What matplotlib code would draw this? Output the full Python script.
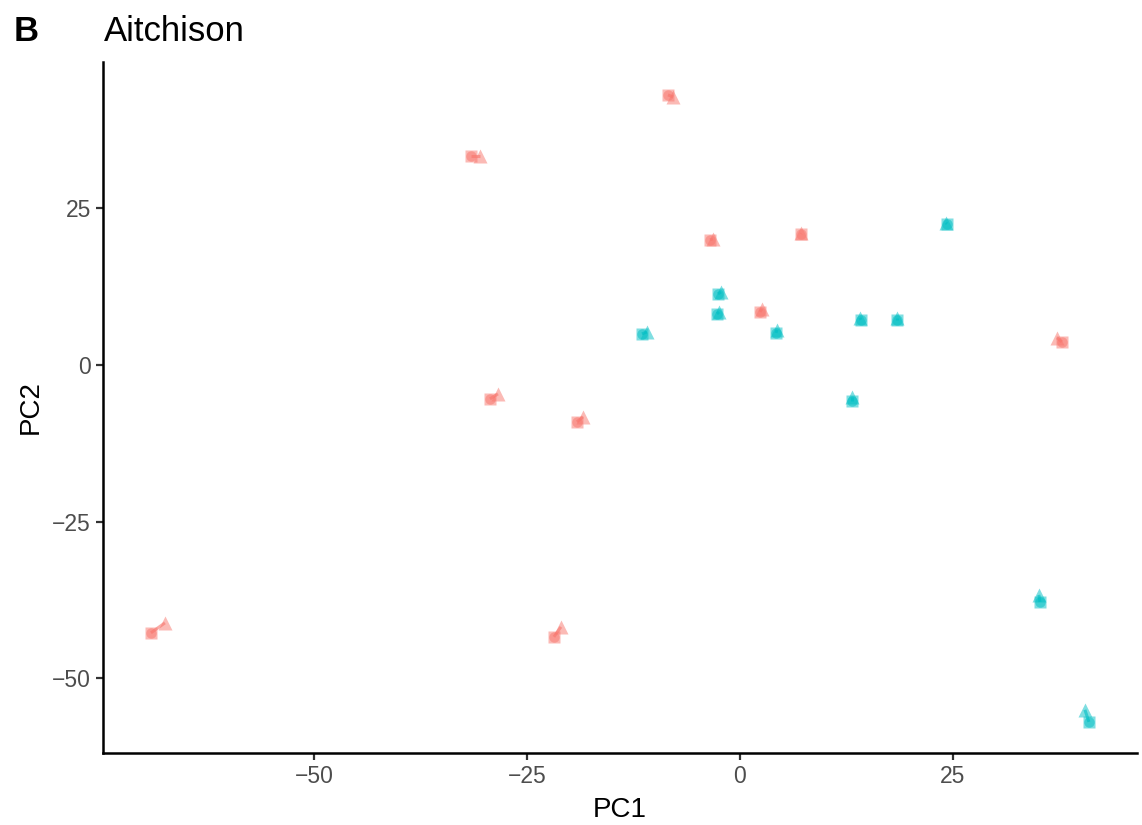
import numpy as np
import matplotlib.pyplot as plt

plt.rcParams["font.family"] = ["Liberation Sans", "DejaVu Sans"]

# PCA coordinates per sample: square = first time point, triangle = second
group = ["a"] * 10 + ["b"] * 10
pc1_t1 = [-8.45, -31.57, -3.52, 7.16, 2.35, 37.79, -29.34, -19.13, -69.13, -21.83,
          24.30, -2.58, -2.70, -11.50, 4.23, 14.20, 18.43, 13.15, 35.21, 40.96]
pc2_t1 = [43.06, 33.33, 19.94, 20.89, 8.45, 3.67, -5.42, -9.09, -42.74, -43.38,
          22.49, 11.32, 8.13, 4.94, 5.10, 7.18, 7.18, -5.74, -37.80, -56.94]
pc1_t2 = [-7.86, -30.52, -3.17, 7.20, 2.58, 37.21, -28.40, -18.43, -67.49, -21.01,
          24.18, -2.23, -2.46, -10.92, 4.34, 14.08, 18.43, 13.15, 35.09, 40.49]
pc2_t2 = [42.74, 33.33, 20.10, 20.97, 8.93, 4.31, -4.63, -8.29, -41.15, -41.79,
          22.65, 11.64, 8.45, 5.26, 5.58, 7.50, 7.50, -5.10, -36.68, -55.02]

colors = {"a": "#F8766D", "b": "#00BFC4"}

fig = plt.figure(figsize=(11.42, 8.25), dpi=100)
ax = fig.add_axes([0.0906, 0.0873, 0.905, 0.8375])

for g, x1, y1, x2, y2 in zip(group, pc1_t1, pc2_t1, pc1_t2, pc2_t2):
    c = colors[g]
    ax.plot([x1, x2], [y1, y2], color=c, lw=2.2, alpha=0.6, solid_capstyle="butt", zorder=2)
    ax.plot(x1, y1, marker="s", ms=9.2, color=c, mec="none", alpha=0.5, ls="none", zorder=3)
    ax.plot(x1, y1, marker="o", ms=7.5, color=c, mec="none", alpha=0.5, ls="none", zorder=3)
    ax.plot(x2, y2, marker="^", ms=10.2, color=c, mec="none", alpha=0.5, ls="none", zorder=3)

ax.set_xlim(-74.7, 46.6)
ax.set_ylim(-61.9, 48.3)
ax.set_xticks([-50, -25, 0, 25])
ax.set_yticks([-50, -25, 0, 25])
ax.set_xticklabels(["\u221250", "\u221225", "0", "25"])
ax.set_yticklabels(["\u221250", "\u221225", "0", "25"])
ax.tick_params(axis="both", labelsize=16.5, labelcolor="#4D4D4D", color="#333333",
               length=5, width=1.6, pad=4)

for side in ["top", "right"]:
    ax.spines[side].set_visible(False)
for side in ["left", "bottom"]:
    ax.spines[side].set_linewidth(1.8)
    ax.spines[side].set_color("black")

ax.set_xlabel("PC1", fontsize=20, labelpad=6)
ax.set_ylabel("PC2", fontsize=20, labelpad=6)

fig.text(0.0906, 0.962, "Aitchison", fontsize=25, ha="left", va="center")
fig.text(0.012, 0.962, "B", fontsize=25, fontweight="bold", ha="left", va="center")

fig.savefig("out.png", dpi=100)
